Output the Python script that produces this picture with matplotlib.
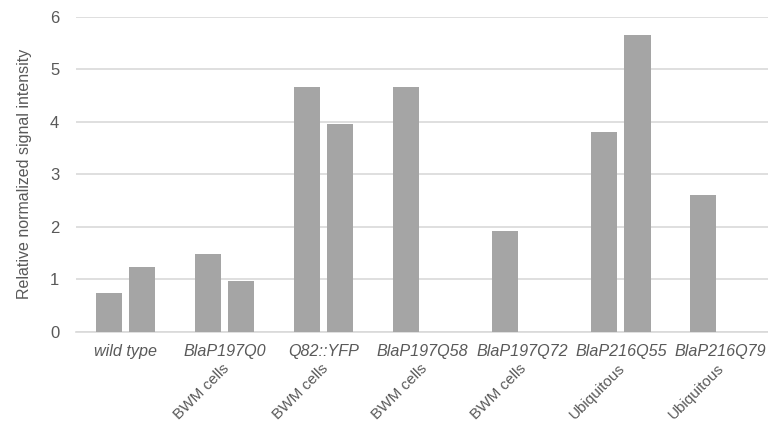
import numpy as np
import matplotlib
matplotlib.use("Agg")
import matplotlib.pyplot as plt

plt.rcParams['font.family'] = ['Liberation Sans', 'DejaVu Sans']

# data
groups = ['wild type', 'BlaP197Q0', 'Q82::YFP', 'BlaP197Q58',
          'BlaP197Q72', 'BlaP216Q55', 'BlaP216Q79']
sublabels = ['', 'BWM cells', 'BWM cells', 'BWM cells',
             'BWM cells', 'Ubiquitous', 'Ubiquitous']
series_a = [0.74, 1.48, 4.66, 4.66, 1.93, 3.81, 2.61]
series_b = [1.24, 0.97, 3.96, np.nan, np.nan, 5.65, np.nan]

text_col = '#595959'
bar_col = '#a5a5a5'
grid_col = '#d9d9d9'

fig = plt.figure(figsize=(7.68, 4.24), dpi=100)
ax = fig.add_axes([0.099, 0.217, 0.903, 0.7436])

x = np.arange(len(groups))
w = 0.263
off = 0.167
ax.bar(x - off, series_a, width=w, color=bar_col, zorder=3)
ax.bar(x + off, series_b, width=w, color=bar_col, zorder=3)

ax.set_xlim(-0.5, len(groups) - 0.5)
ax.set_ylim(0, 6)
ax.set_yticks(range(7))
ax.yaxis.grid(True, color=grid_col, linewidth=1.2, zorder=0)
for s in ['top', 'right', 'left']:
    ax.spines[s].set_visible(False)
ax.spines['bottom'].set_color(grid_col)
ax.spines['bottom'].set_linewidth(1.2)
ax.tick_params(axis='y', length=0, pad=12, labelsize=12, labelcolor=text_col)
ax.tick_params(axis='x', length=0, pad=9, labelsize=11.6, labelcolor=text_col)
ax.set_xticks(x)
ax.set_xticklabels(groups, style='italic')

ax.set_ylabel('Relative normalized signal intensity', fontsize=11.5,
              color=text_col, labelpad=13)

# rotated sub-labels under the group names
trans = matplotlib.transforms.blended_transform_factory(ax.transData, ax.transAxes)
for i, lab in enumerate(sublabels):
    if lab:
        ax.text(i - 0.03, -0.092, lab, transform=trans, rotation=45,
                rotation_mode='anchor', ha='right', va='top',
                fontsize=11, color=text_col)

fig.savefig('out.png', dpi=100)
